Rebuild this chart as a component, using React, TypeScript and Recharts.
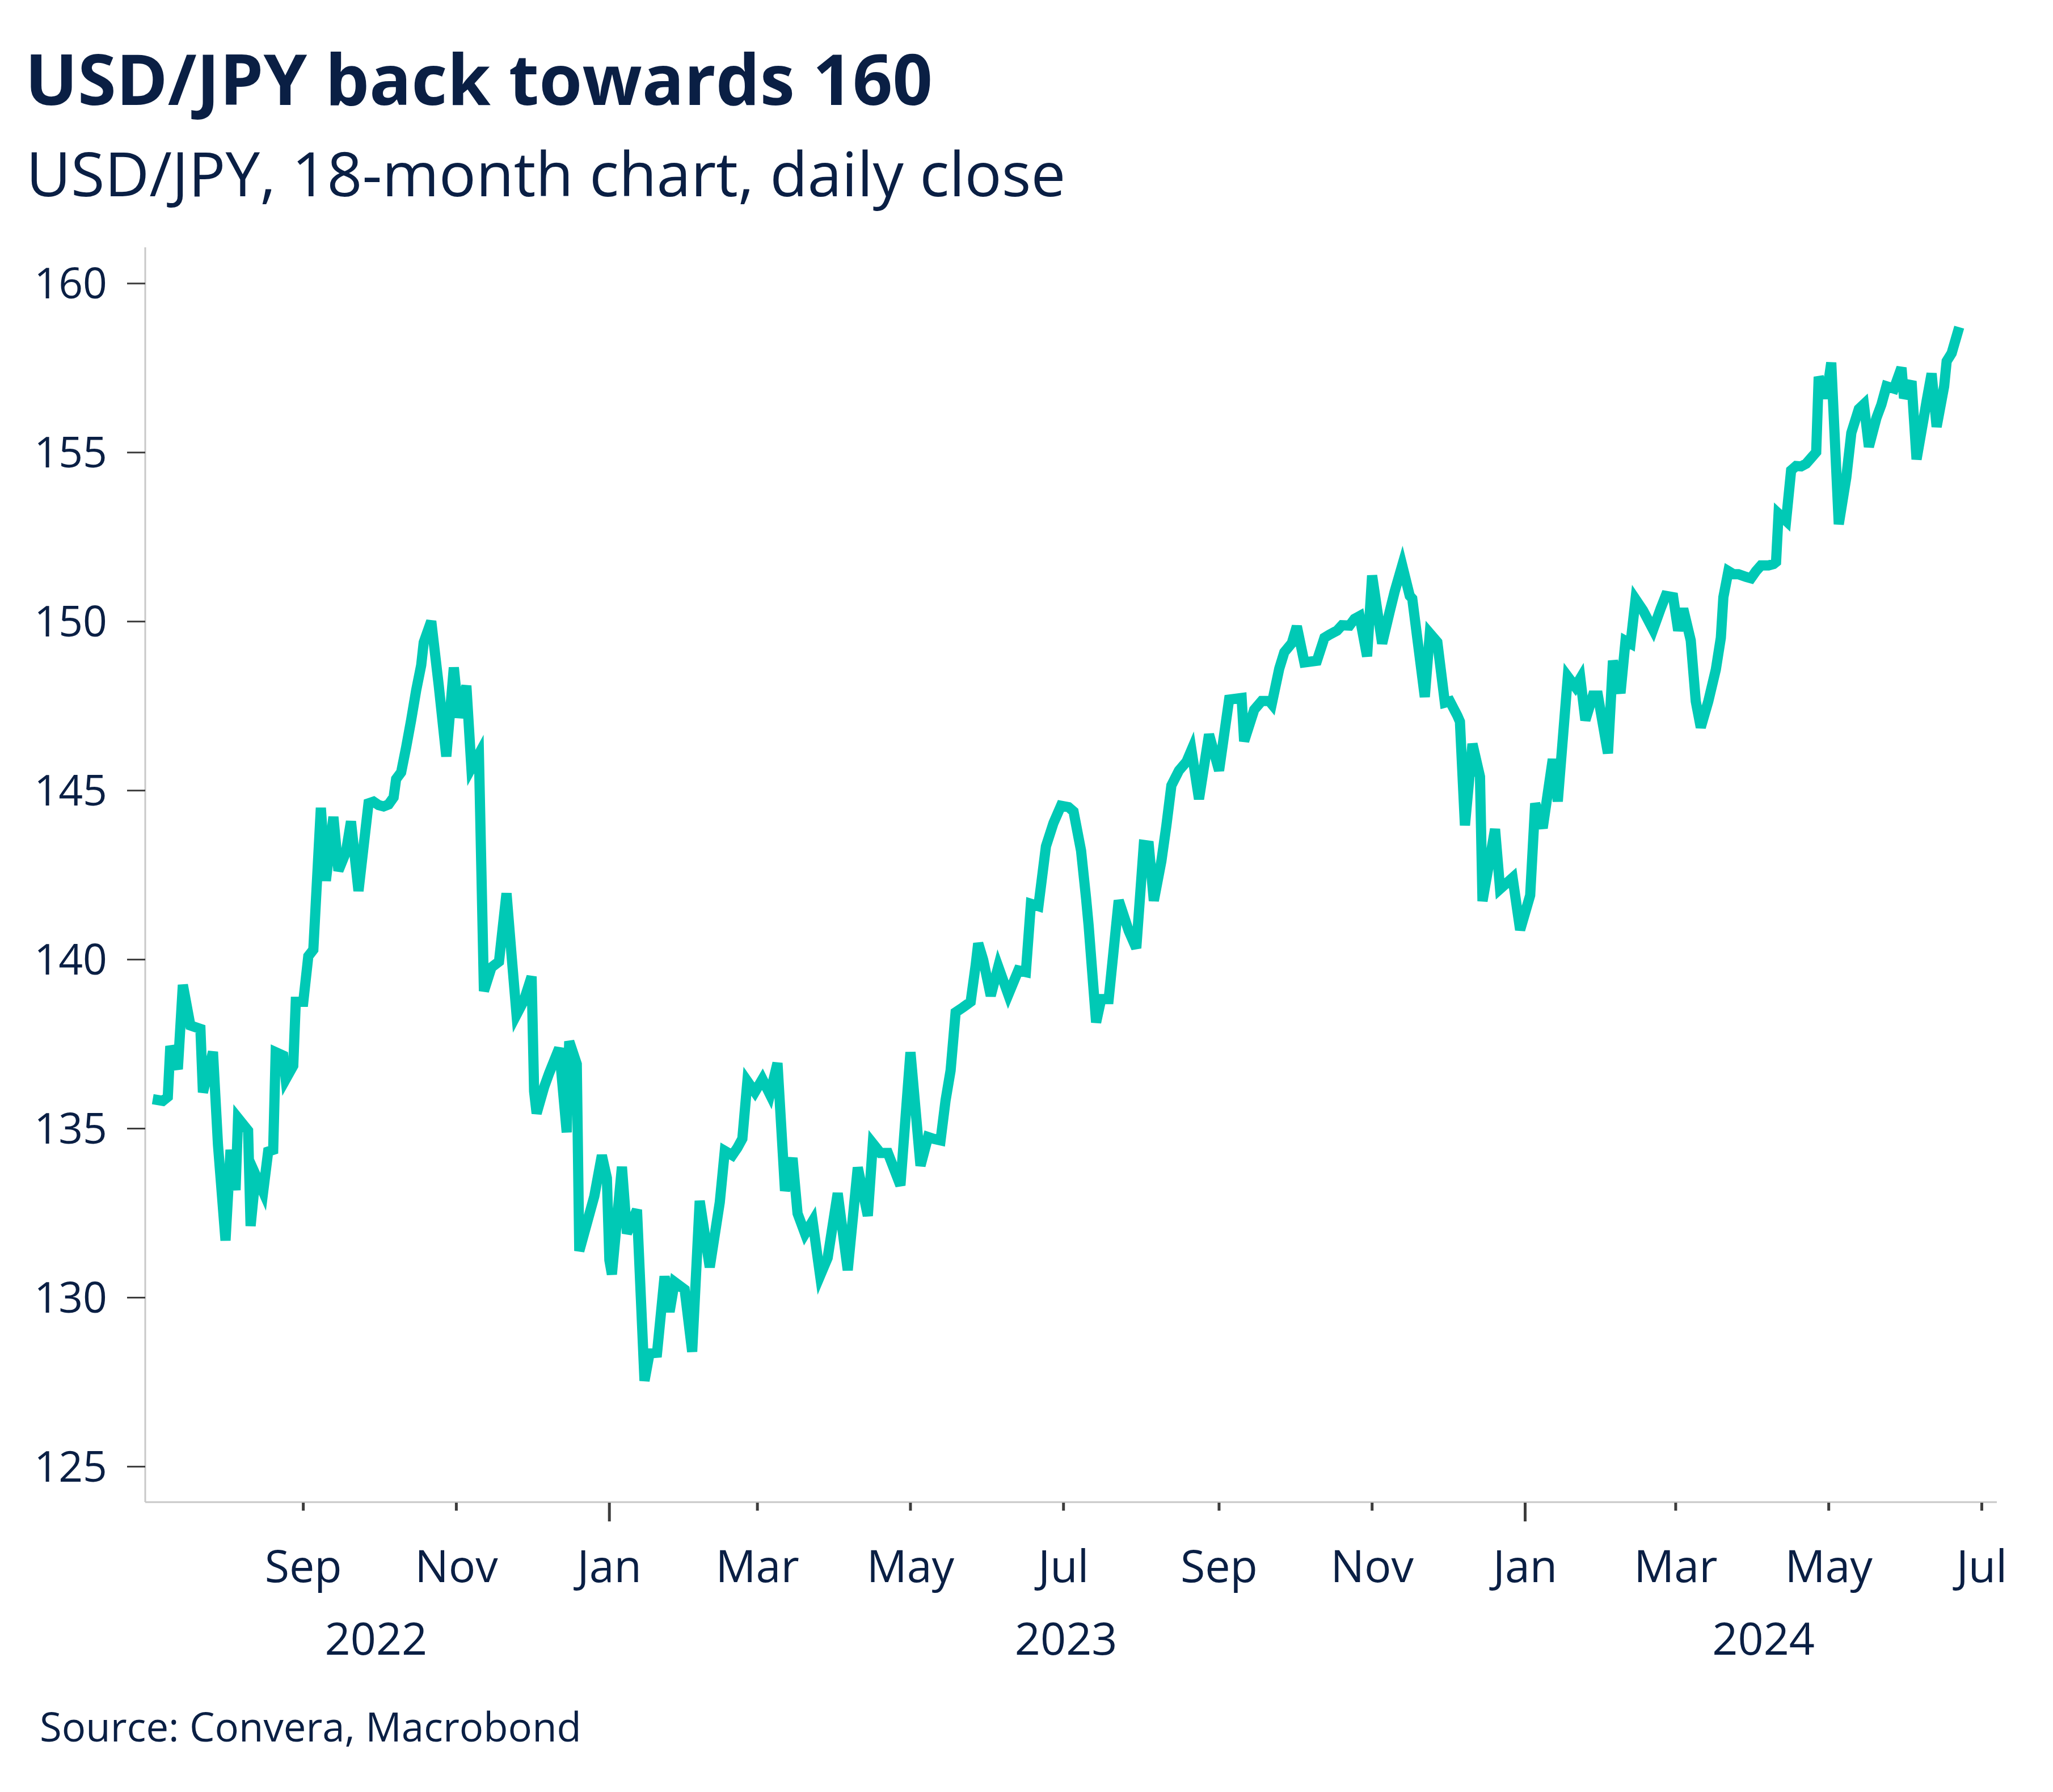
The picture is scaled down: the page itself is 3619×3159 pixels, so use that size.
import { LineChart, Line, XAxis, YAxis } from "recharts";

// daily close
const dates = [
  "2022-07-03", "2022-07-07", "2022-07-09", "2022-07-10", "2022-07-13", "2022-07-15", "2022-07-18", "2022-07-22", "2022-07-23", "2022-07-27", "2022-07-29",
  "2022-08-01", "2022-08-03", "2022-08-05", "2022-08-06", "2022-08-10", "2022-08-11", "2022-08-13", "2022-08-16", "2022-08-18", "2022-08-20", "2022-08-21", "2022-08-24", "2022-08-25", "2022-08-28", "2022-08-29",
  "2022-09-01", "2022-09-03", "2022-09-05", "2022-09-08", "2022-09-10", "2022-09-13", "2022-09-15", "2022-09-18", "2022-09-20", "2022-09-23", "2022-09-27", "2022-09-29",
  "2022-10-01", "2022-10-03", "2022-10-05", "2022-10-07", "2022-10-08", "2022-10-10", "2022-10-12", "2022-10-14", "2022-10-16", "2022-10-18", "2022-10-19", "2022-10-22", "2022-10-25", "2022-10-28", "2022-10-31",
  "2022-11-02", "2022-11-05", "2022-11-07", "2022-11-10", "2022-11-12", "2022-11-15", "2022-11-18", "2022-11-21", "2022-11-23", "2022-11-25", "2022-11-28",
  "2022-12-01", "2022-12-02", "2022-12-03", "2022-12-06", "2022-12-08", "2022-12-12", "2022-12-15", "2022-12-16", "2022-12-19", "2022-12-20", "2022-12-24", "2022-12-26", "2022-12-29", "2022-12-31",
  "2023-01-01", "2023-01-02", "2023-01-06", "2023-01-08", "2023-01-12", "2023-01-15", "2023-01-17", "2023-01-20", "2023-01-23", "2023-01-25", "2023-01-27", "2023-01-31",
  "2023-02-03", "2023-02-06", "2023-02-10", "2023-02-14", "2023-02-16", "2023-02-19", "2023-02-21", "2023-02-23", "2023-02-25", "2023-02-28",
  "2023-03-03", "2023-03-06", "2023-03-09", "2023-03-12", "2023-03-15", "2023-03-17", "2023-03-20", "2023-03-23", "2023-03-26", "2023-03-29",
  "2023-04-02", "2023-04-06", "2023-04-10", "2023-04-14", "2023-04-16", "2023-04-19", "2023-04-22", "2023-04-27",
  "2023-05-01", "2023-05-05", "2023-05-08", "2023-05-10", "2023-05-13", "2023-05-15", "2023-05-17", "2023-05-19", "2023-05-22", "2023-05-25", "2023-05-27", "2023-05-28", "2023-05-30",
  "2023-06-02", "2023-06-05", "2023-06-09", "2023-06-13", "2023-06-16", "2023-06-18", "2023-06-21", "2023-06-24", "2023-06-27", "2023-06-30",
  "2023-07-03", "2023-07-05", "2023-07-08", "2023-07-10", "2023-07-11", "2023-07-14", "2023-07-16", "2023-07-19", "2023-07-23", "2023-07-27", "2023-07-30",
  "2023-08-02", "2023-08-04", "2023-08-06", "2023-08-09", "2023-08-11", "2023-08-13", "2023-08-16", "2023-08-19", "2023-08-21", "2023-08-24", "2023-08-28",
  "2023-09-01", "2023-09-05", "2023-09-10", "2023-09-11", "2023-09-15", "2023-09-18", "2023-09-21", "2023-09-22", "2023-09-25", "2023-09-27", "2023-09-30",
  "2023-10-02", "2023-10-05", "2023-10-10", "2023-10-13", "2023-10-15", "2023-10-18", "2023-10-20", "2023-10-23", "2023-10-25", "2023-10-27", "2023-10-30",
  "2023-11-01", "2023-11-05", "2023-11-08", "2023-11-10", "2023-11-13", "2023-11-16", "2023-11-17", "2023-11-22", "2023-11-24", "2023-11-27", "2023-11-30",
  "2023-12-02", "2023-12-05", "2023-12-06", "2023-12-08", "2023-12-11", "2023-12-14", "2023-12-15", "2023-12-20", "2023-12-22", "2023-12-27", "2023-12-30",
  "2024-01-03", "2024-01-05", "2024-01-08", "2024-01-12", "2024-01-14", "2024-01-18", "2024-01-21", "2024-01-23", "2024-01-25", "2024-01-28", "2024-01-30",
  "2024-02-03", "2024-02-05", "2024-02-08", "2024-02-10", "2024-02-12", "2024-02-14", "2024-02-17", "2024-02-21", "2024-02-24", "2024-02-26", "2024-02-29",
  "2024-03-02", "2024-03-04", "2024-03-07", "2024-03-09", "2024-03-11", "2024-03-14", "2024-03-17", "2024-03-19", "2024-03-20", "2024-03-22", "2024-03-24", "2024-03-26", "2024-03-29", "2024-03-31",
  "2024-04-02", "2024-04-04", "2024-04-07", "2024-04-09", "2024-04-10", "2024-04-11", "2024-04-14", "2024-04-16", "2024-04-18", "2024-04-20", "2024-04-22", "2024-04-24", "2024-04-26", "2024-04-27", "2024-04-30",
  "2024-05-02", "2024-05-05", "2024-05-08", "2024-05-10", "2024-05-13", "2024-05-15", "2024-05-17", "2024-05-20", "2024-05-22", "2024-05-24", "2024-05-27", "2024-05-30", "2024-05-31",
  "2024-06-03", "2024-06-05", "2024-06-08", "2024-06-09", "2024-06-11", "2024-06-13", "2024-06-16", "2024-06-17", "2024-06-19", "2024-06-22",
];

const usdJpy = [
  135.87, 135.82, 135.94, 137.44, 136.76, 139.25, 138.05, 137.95, 136.07, 137.27, 134.52,
  131.69, 134.37, 133.18, 135.31, 134.94, 132.12, 133.63, 133.13, 134.32, 134.37, 137.26, 137.16, 136.46, 136.86, 138.75,
  138.75, 140.1, 140.29, 144.49, 142.33, 144.22, 142.63, 143.18, 144.09, 142.03, 144.62, 144.67,
  144.57, 144.53, 144.59, 144.8, 145.34, 145.54, 146.28, 147.09, 147.97, 148.71, 149.38, 150.01, 148.1, 146.01, 148.64,
  147.16, 148.1, 145.67, 146.08, 139.07, 139.77, 139.94, 141.96, 140.14, 138.37, 138.8,
  139.5, 136.1, 135.45, 136.23, 136.64, 137.38, 134.89, 137.58, 136.91, 131.38, 132.46, 133.0, 134.21, 133.54,
  131.11, 130.69, 133.87, 131.9, 132.6, 127.54, 128.35, 128.37, 130.63, 129.58, 130.46, 130.24,
  128.4, 132.86, 130.9, 132.82, 134.34, 134.21, 134.43, 134.7, 136.4, 136.08,
  136.46, 136.01, 136.94, 133.16, 134.13, 132.49, 131.89, 132.26, 130.65, 131.18,
  133.09, 130.81, 133.85, 132.42, 134.56, 134.28, 134.28, 133.32,
  137.26, 133.9, 134.75, 134.7, 134.65, 135.84, 136.72, 138.44, 138.59, 138.75, 139.84, 140.48, 139.99,
  138.93, 139.79, 138.96, 139.68, 139.63, 141.65, 141.58, 143.35, 144.04, 144.55,
  144.51, 144.38, 143.22, 141.81, 141.02, 138.14, 138.83, 138.83, 141.75, 140.85, 140.34,
  143.39, 143.37, 141.74, 142.91, 143.96, 145.15, 145.59, 145.85, 146.2, 144.75, 146.66,
  145.59, 147.69, 147.74, 146.46, 147.39, 147.65, 147.65, 147.56, 148.61, 149.09, 149.36,
  149.86, 148.79, 148.84, 149.52, 149.61, 149.73, 149.89, 149.88, 150.08, 150.16, 148.97,
  151.36, 149.35, 150.29, 150.89, 151.66, 150.76, 150.68, 147.77, 149.65, 149.39, 147.6,
  147.64, 147.21, 147.04, 143.97, 146.38, 145.41, 141.73, 143.86, 142.09, 142.42, 140.88,
  141.9, 144.62, 143.89, 145.93, 144.68, 148.37, 148.07, 148.32, 147.08, 147.81, 147.81,
  146.1, 148.84, 147.88, 149.43, 149.35, 150.66, 150.33, 149.76, 150.38, 150.76, 150.72,
  149.73, 150.38, 149.44, 147.64, 146.87, 147.64, 148.58, 149.52, 150.72, 151.49, 151.4, 151.4, 151.32, 151.28,
  151.49, 151.66, 151.66, 151.7, 151.76, 153.19, 152.98, 154.47, 154.6, 154.59, 154.67, 154.84, 155.01, 157.24, 156.62,
  157.66, 152.88, 154.26, 155.58, 156.29, 156.43, 155.17, 156.02, 156.42, 156.96, 156.89, 157.51, 156.61,
  157.11, 154.8, 156.08, 156.52, 157.34, 155.76, 156.96, 157.7, 157.94, 158.71,
];

const yTicks = [125, 130, 135, 140, 145, 150, 155, 160];
const monthTicks = [
  "2022-09-01", "2022-11-01", "2023-01-01", "2023-03-01", "2023-05-01", "2023-07-01",
  "2023-09-01", "2023-11-01", "2024-01-01", "2024-03-01", "2024-05-01", "2024-07-01",
];
const monthLabels = ["Sep", "Nov", "Jan", "Mar", "May", "Jul", "Sep", "Nov", "Jan", "Mar", "May", "Jul"];
const yearTicks = ["2022-09-30", "2023-07-02", "2024-04-05"];
const yearLabels = ["2022", "2023", "2024"];
const xRange = ["2022-06-30", "2024-07-07"];

const ts = (d: string) => Date.parse(d + "T00:00:00Z");
const data = dates.map((d, i) => ({ t: ts(d), v: usdJpy[i] }));

const NAVY = "#0a1f44";
const TEAL = "#00c9b5";
const FONT = "'Open Sans', sans-serif";

function MonthTick(props: any) {
  const { x, y, payload } = props;
  const i = monthTicks.findIndex((m) => ts(m) === payload.value);
  const label = monthLabels[i] ?? "";
  const long = label === "Jan";
  return (
    <g>
      <line x1={x} x2={x} y1={y + 1} y2={y + (long ? 34 : 15)} stroke="#3d3d3d" strokeWidth={5} />
      <text x={x} y={y + 141} textAnchor="middle" fill={NAVY} fontSize={79} fontFamily={FONT}>
        {label}
      </text>
    </g>
  );
}

function YearTick(props: any) {
  const { x, y, payload } = props;
  const i = yearTicks.findIndex((m) => ts(m) === payload.value);
  return (
    <text x={x} y={y + 89} textAnchor="middle" fill={NAVY} fontSize={79} fontFamily={FONT}>
      {yearLabels[i] ?? ""}
    </text>
  );
}

export default function App() {
  const xDomain = xRange.map(ts);
  return (
    <div style={{ position: "absolute", left: 0, top: 0, width: 3619, height: 3159, background: "#fff", fontFamily: FONT }}>
      <LineChart width={3619} height={3159} data={data} margin={{ top: 436, right: 99, bottom: 0, left: 0 }}>
        <XAxis
          dataKey="t"
          type="number"
          domain={xDomain}
          allowDataOverflow
          ticks={monthTicks.map(ts)}
          interval={0}
          height={180}
          tickSize={0}
          tickMargin={0}
          tickLine={false}
          axisLine={{ stroke: "#c8c8c8", strokeWidth: 3 }}
          tick={<MonthTick />}
        />
        <XAxis
          xAxisId="year"
          dataKey="t"
          type="number"
          domain={xDomain}
          allowDataOverflow
          ticks={yearTicks.map(ts)}
          interval={0}
          height={331}
          tickSize={0}
          tickMargin={0}
          tickLine={false}
          axisLine={false}
          tick={<YearTick />}
        />
        <YAxis
          type="number"
          domain={[123.95, 161.07]}
          allowDataOverflow
          ticks={yTicks}
          interval={0}
          width={256}
          tickSize={32}
          tickMargin={35}
          axisLine={{ stroke: "#c8c8c8", strokeWidth: 3 }}
          tickLine={{ stroke: "#3d3d3d", strokeWidth: 3 }}
          tick={{ fill: NAVY, fontSize: 75, fontFamily: FONT }}
        />
        <Line
          type="linear"
          dataKey="v"
          stroke={TEAL}
          strokeWidth={18}
          dot={false}
          activeDot={false}
          isAnimationActive={false}
        />
      </LineChart>
      <svg width={3619} height={3159} style={{ position: "absolute", left: 0, top: 0, pointerEvents: "none" }}>
        <text x={44} y={185} fill={NAVY} fontSize={123} fontWeight={700} fontFamily={FONT}>
          USD/JPY back towards 160
        </text>
        <text x={46} y={346} fill={NAVY} fontSize={108.5} fontFamily={FONT}>
          USD/JPY, 18-month chart, daily close
        </text>
        <text x={70} y={3070} fill={NAVY} fontSize={70.7} fontFamily={FONT}>
          Source: Convera, Macrobond
        </text>
      </svg>
    </div>
  );
}
